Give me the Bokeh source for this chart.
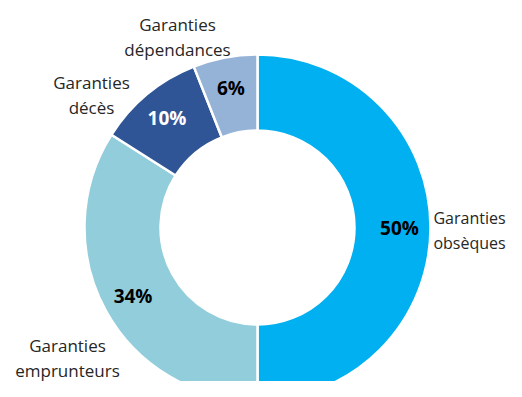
import math
from bokeh.plotting import figure
from bokeh.models import Range1d, ColumnDataSource
from bokeh.core.properties import value
from bokeh.embed import file_html
from bokeh.resources import INLINE

# ---- data ----
categories = ["Garanties obsèques", "Garanties emprunteurs", "Garanties décès", "Garanties dépendances"]
label_lines = [["Garanties", "obsèques"], ["Garanties", "emprunteurs"], ["Garanties", "décès"], ["Garanties", "dépendances"]]
values = [50, 34, 10, 6]
colors = ["#00B0F0", "#92CDDC", "#2F5597", "#95B3D7"]
pct_colors = ["black", "black", "white", "black"]

# ---- layout (picture pixel coordinates; y flipped below) ----
W, H = 506, 381
PIC_H = 397
cx, cy_pic = 257, 227
r_out, r_in = 173, 97
r_lab = 142
cat_pos = [(469, 217), (67, 345), (91, 82), (177, 24)]  # first line centers
cat_size = ["16px", "17px", "17px", "17px"]
line_gap = 25

p = figure(width=W, height=H, output_backend="svg", toolbar_location=None,
           x_range=Range1d(0, W), y_range=Range1d(PIC_H - H, PIC_H),
           min_border=0)
p.axis.visible = False
p.grid.visible = False
p.outline_line_color = None
p.background_fill_color = "white"

cy = PIC_H - cy_pic
total = sum(values)
starts, ends, mids = [], [], []
cum = 0
for v in values:
    a0 = math.pi / 2 - 2 * math.pi * cum / total
    cum += v
    a1 = math.pi / 2 - 2 * math.pi * cum / total
    starts.append(a0)
    ends.append(a1)
    mids.append((a0 + a1) / 2)

src = ColumnDataSource(dict(x=[cx] * 4, y=[cy] * 4, start=starts, end=ends, color=colors))
p.annular_wedge(x="x", y="y", inner_radius=r_in, outer_radius=r_out,
                start_angle="start", end_angle="end", direction="clock",
                fill_color="color", line_color="white", line_width=2.5, source=src)

# percent labels
px = [cx + r_lab * math.cos(m) for m in mids]
py = [cy + r_lab * math.sin(m) for m in mids]
p.text(x=px, y=py, text=[f"{v}%" for v in values], text_color=pct_colors,
       text_font=value("Open Sans"), text_font_style="bold", text_font_size="19px",
       text_align="center", text_baseline="middle")

# category labels
tx, ty, tt, ts = [], [], [], []
for lines, (lx, ly), fs in zip(label_lines, cat_pos, cat_size):
    for i, ln in enumerate(lines):
        tx.append(lx)
        ty.append(PIC_H - (ly + i * line_gap))
        tt.append(ln)
        ts.append(fs)
p.text(x=tx, y=ty, text=tt, text_color="#262626", text_font_size=ts,
       text_font=value("Open Sans"),
       text_align="center", text_baseline="middle")

open("out.html", "w").write(file_html(p, INLINE))
